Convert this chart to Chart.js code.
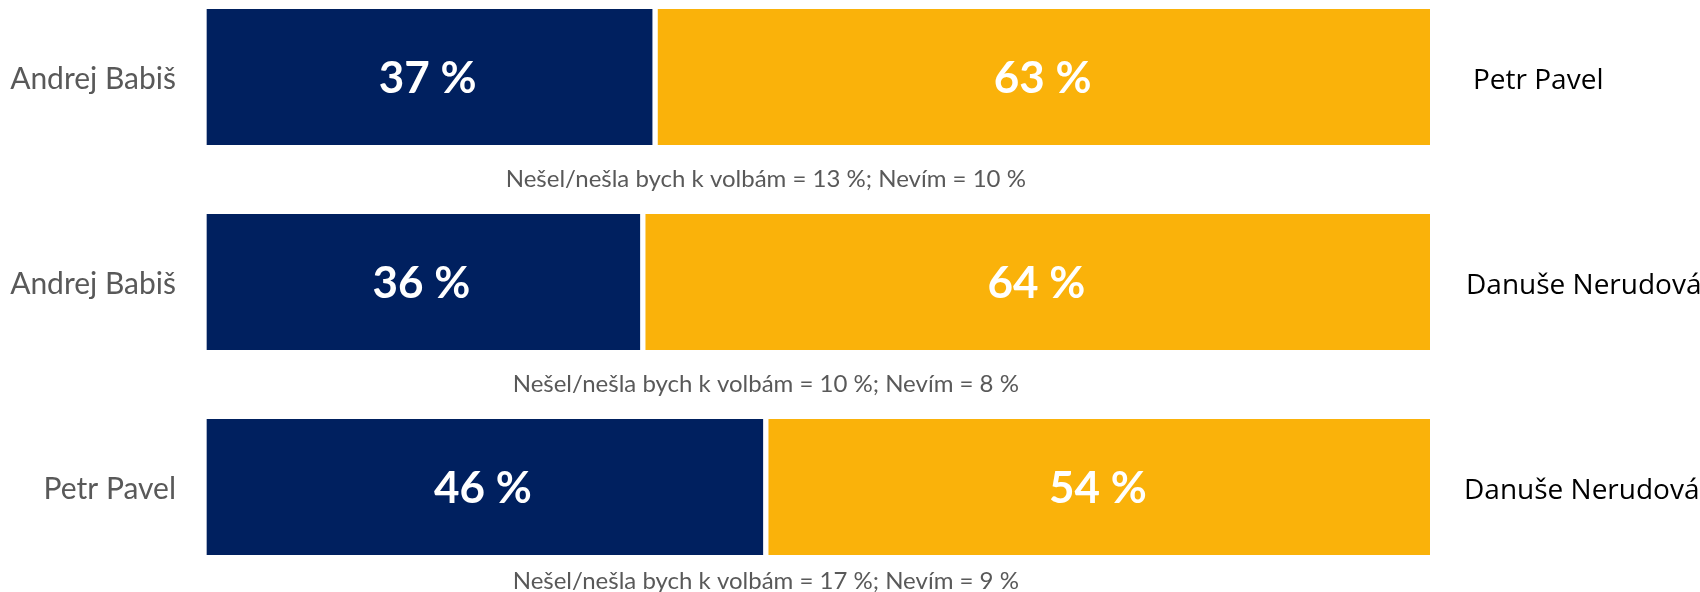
<!DOCTYPE html>
<html>
<head>
<meta charset="utf-8">
<script src="https://cdn.jsdelivr.net/npm/chart.js@4/dist/chart.umd.min.js"></script>
<style>
html,body{margin:0;padding:0;background:#fff;}
#wrap{width:1700px;height:592px;position:relative;}
</style>
</head>
<body>
<div id="wrap"><canvas id="c"></canvas></div>
<script>
const leftNames = ["Andrej Babiš", "Andrej Babiš", "Petr Pavel"];
const rightNames = ["Petr Pavel", "Danuše Nerudová", "Danuše Nerudová"];
const leftValues = [37, 36, 46];
const rightValues = [63, 64, 54];
const notes = [
  "Nešel/nešla bych k volbám = 13 %; Nevím = 10 %",
  "Nešel/nešla bych k volbám = 10 %; Nevím = 8 %",
  "Nešel/nešla bych k volbám = 17 %; Nevím = 9 %"
];

const NAVY = "#00205F";
const GOLD = "#FAB20A";
const rightOffsets = [43, 36, 34];

const labelPlugin = {
  id: "labels",
  afterDatasetsDraw(chart) {
    const ctx = chart.ctx;
    const y = chart.scales.y, x = chart.scales.x;
    const area = chart.chartArea;
    ctx.save();
    ctx.textBaseline = "middle";
    chart.data.datasets.forEach((ds, di) => {
      const meta = chart.getDatasetMeta(di);
      meta.data.forEach((el, i) => {
        const cx = (el.x + el.base) / 2;
        ctx.font = "bold 44px Lato";
        ctx.fillStyle = "#ffffff";
        ctx.textAlign = "center";
        ctx.fillText(ds.data[i] + " %", cx, el.y + 2);
      });
    });
    for (let i = 0; i < leftNames.length; i++) {
      const cy = y.getPixelForValue(i);
      ctx.font = "30px Lato";
      ctx.fillStyle = "#595959";
      ctx.textAlign = "right";
      ctx.fillText(leftNames[i], area.left - 24, cy + 2);
      ctx.font = "28px 'Open Sans'";
      ctx.fillStyle = "#000000";
      ctx.textAlign = "left";
      ctx.fillText(rightNames[i], area.right + rightOffsets[i], cy + 4);
      ctx.font = "24px Lato";
      ctx.fillStyle = "#595959";
      ctx.textAlign = "center";
      const ny = Math.min(cy + 102, chart.height - 11);
      ctx.fillText(notes[i], x.getPixelForValue(46), ny);
    }
    ctx.restore();
  }
};

new Chart(document.getElementById("c"), {
  type: "bar",
  data: {
    labels: leftNames,
    datasets: [
      {
        data: leftValues,
        backgroundColor: NAVY,
        borderColor: "#ffffff",
        borderWidth: {left: 7, right: 3, top: 0, bottom: 0},
        borderSkipped: false,
        barThickness: 136,
        clip: false
      },
      {
        data: rightValues,
        backgroundColor: GOLD,
        borderColor: "#ffffff",
        borderWidth: {left: 3, right: 0, top: 0, bottom: 0},
        borderSkipped: false,
        barThickness: 136,
        clip: false
      }
    ]
  },
  options: {
    indexAxis: "y",
    responsive: true,
    maintainAspectRatio: false,
    animation: false,
    layout: {padding: {left: 200, right: 270, top: 77, bottom: 105}},
    plugins: {legend: {display: false}, tooltip: {enabled: false}},
    scales: {
      x: {stacked: true, min: 0, max: 100, display: false},
      y: {stacked: true, display: false, offset: false}
    }
  },
  plugins: [labelPlugin]
});
</script>
</body>
</html>
